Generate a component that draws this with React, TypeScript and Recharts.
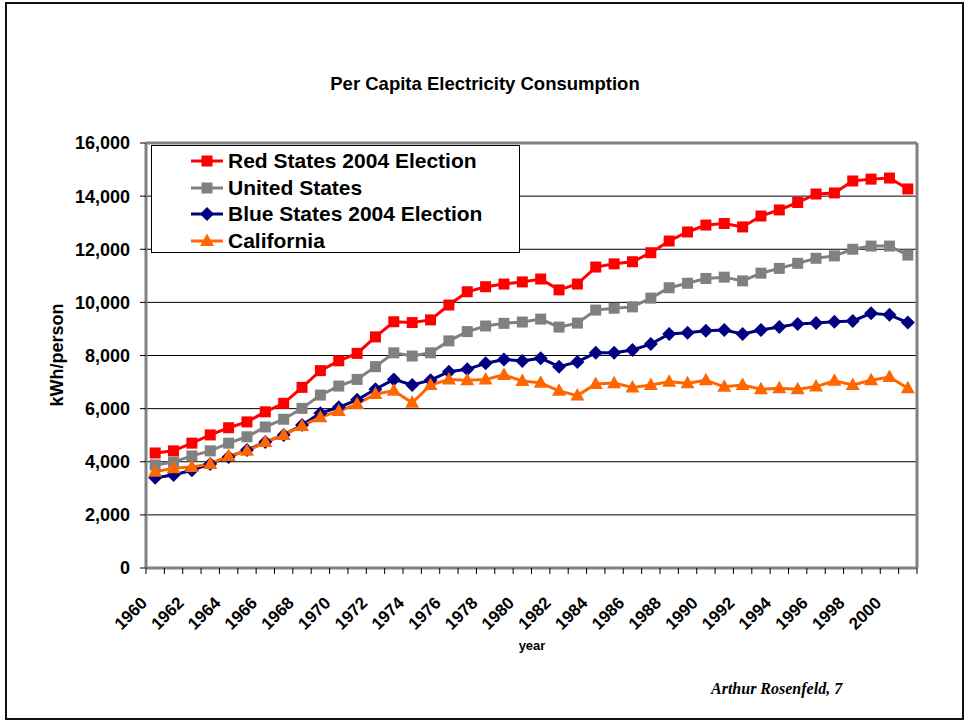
import { LineChart, Line, XAxis, YAxis, CartesianGrid, ReferenceLine } from 'recharts';

const years = [
  1960, 1961, 1962, 1963, 1964, 1965, 1966, 1967, 1968, 1969, 1970, 1971, 1972, 1973,
  1974, 1975, 1976, 1977, 1978, 1979, 1980, 1981, 1982, 1983, 1984, 1985, 1986, 1987,
  1988, 1989, 1990, 1991, 1992, 1993, 1994, 1995, 1996, 1997, 1998, 1999, 2000, 2001,
];

const redStates = [
  4330, 4410, 4700, 5010, 5280, 5500, 5880, 6200, 6800, 7430, 7800, 8080, 8700, 9270,
  9240, 9340, 9900, 10400, 10590, 10690, 10770, 10880, 10470, 10690, 11330, 11450, 11530, 11870,
  12310, 12650, 12910, 12970, 12840, 13250, 13480, 13760, 14080, 14120, 14570, 14640, 14680, 14270,
];

const unitedStates = [
  3880, 3990, 4220, 4410, 4700, 4940, 5310, 5600, 6010, 6510, 6850, 7100, 7580, 8100,
  7980, 8100, 8550, 8900, 9110, 9210, 9260, 9370, 9070, 9220, 9710, 9780, 9830, 10160,
  10550, 10720, 10900, 10950, 10810, 11100, 11280, 11470, 11660, 11750, 12000, 12120, 12120, 11780,
];

const blueStates = [
  3400, 3500, 3680, 3920, 4180, 4440, 4740, 5010, 5380, 5830, 6050, 6330, 6730, 7100,
  6890, 7070, 7390, 7480, 7710, 7850, 7790, 7900, 7580, 7760, 8100, 8100, 8210, 8430,
  8810, 8860, 8930, 8960, 8810, 8960, 9070, 9190, 9220, 9270, 9300, 9590, 9530, 9240,
];

const california = [
  3620, 3760, 3800, 3920, 4220, 4410, 4740, 5010, 5350, 5680, 5910, 6170, 6550, 6670,
  6220, 6890, 7100, 7070, 7100, 7270, 7040, 6970, 6670, 6490, 6930, 6960, 6800, 6890,
  7010, 6960, 7070, 6820, 6890, 6730, 6770, 6730, 6830, 7050, 6890, 7070, 7190, 6770,
];

const yTicks = [0, 2000, 4000, 6000, 8000, 10000, 12000, 14000, 16000];
const yearLabels = [
  1960, 1962, 1964, 1966, 1968, 1970, 1972, 1974, 1976, 1978, 1980,
  1982, 1984, 1986, 1988, 1990, 1992, 1994, 1996, 1998, 2000,
];

const data = years.map((year, i) => ({
  year,
  red: redStates[i],
  us: unitedStates[i],
  blue: blueStates[i],
  ca: california[i],
}));

// Excel-style category axis: tick marks sit between the years
const bandEdges = [...years.map((y) => y - 0.5), years[years.length - 1] + 0.5];

const series = [
  { key: 'red', name: 'Red States 2004 Election', color: '#ff0000', shape: 'square' },
  { key: 'us', name: 'United States', color: '#808080', shape: 'square' },
  { key: 'blue', name: 'Blue States 2004 Election', color: '#000080', shape: 'diamond' },
  { key: 'ca', name: 'California', color: '#ff6600', shape: 'triangle' },
];

const FONT = '"Liberation Sans", Arial, sans-serif';

function Marker({ shape, cx, cy, color }: { shape: string; cx: number; cy: number; color: string }) {
  if (shape === 'square') return <rect x={cx - 5.5} y={cy - 5.5} width={11} height={11} fill={color} />;
  if (shape === 'diamond')
    return <polygon points={`${cx},${cy - 7} ${cx + 7},${cy} ${cx},${cy + 7} ${cx - 7},${cy}`} fill={color} />;
  return <polygon points={`${cx},${cy - 7.5} ${cx + 7},${cy + 5} ${cx - 7},${cy + 5}`} fill={color} />;
}

function YearTick({ x, y, payload }: any) {
  const ax = x - 7;
  const ay = y + 27;
  return (
    <text
      x={ax}
      y={ay}
      transform={`rotate(-45 ${ax} ${ay})`}
      textAnchor="end"
      fontSize={17}
      fontWeight="bold"
      fontFamily={FONT}
      fill="#000"
    >
      {payload.value}
    </text>
  );
}

// edge axis only draws its tick marks
const NoLabel = () => <g />;

function LegendBox() {
  return (
    <div
      style={{
        position: 'absolute',
        left: 151,
        top: 145,
        width: 369,
        height: 108,
        boxSizing: 'border-box',
        border: '1px solid #000',
        background: '#fff',
        padding: '2px 0 0 38px',
      }}
    >
      {series.map((s) => (
        <div key={s.key} style={{ display: 'flex', alignItems: 'center', height: 26.5 }}>
          <svg width={34} height={20} style={{ marginRight: 4 }}>
            <line x1={1} y1={10} x2={33} y2={10} stroke={s.color} strokeWidth={3} />
            <Marker shape={s.shape} cx={17} cy={10} color={s.color} />
          </svg>
          <span style={{ fontFamily: FONT, fontWeight: 'bold', fontSize: 21, color: '#000', whiteSpace: 'nowrap' }}>
            {s.name}
          </span>
        </div>
      ))}
    </div>
  );
}

export default function App() {
  return (
    <div style={{ position: 'absolute', left: 0, top: 0, width: 964, height: 721, background: '#fff', fontFamily: FONT }}>
      <div
        style={{
          position: 'absolute',
          left: 5,
          top: 2,
          width: 959,
          height: 718,
          boxSizing: 'border-box',
          border: '2px solid #111',
        }}
      />
      <div
        style={{
          position: 'absolute',
          left: 285,
          width: 400,
          top: 73,
          textAlign: 'center',
          fontWeight: 'bold',
          fontSize: 18.5,
        }}
      >
        Per Capita Electricity Consumption
      </div>
      <div
        style={{
          position: 'absolute',
          left: 57,
          top: 355,
          transform: 'translate(-50%, -50%) rotate(-90deg)',
          whiteSpace: 'nowrap',
          fontWeight: 'bold',
          fontSize: 18,
        }}
      >
        kWh/person
      </div>
      <div style={{ position: 'absolute', left: 482, width: 100, top: 638, textAlign: 'center', fontWeight: 'bold', fontSize: 13 }}>
        year
      </div>
      <div
        style={{
          position: 'absolute',
          left: 711,
          top: 680,
          fontFamily: '"Liberation Serif", "Times New Roman", serif',
          fontStyle: 'italic',
          fontWeight: 'bold',
          fontSize: 16,
          whiteSpace: 'nowrap',
        }}
      >
        Arthur Rosenfeld, 7
      </div>

      <div style={{ position: 'absolute', left: 0, top: 0 }}>
        <LineChart width={964} height={721} data={data} margin={{ top: 143, right: 46, bottom: 92, left: 66 }}>
          <CartesianGrid vertical={false} stroke="#000" strokeWidth={1} yAxisId="left" xAxisId="labels" />
          <XAxis
            xAxisId="edges"
            type="number"
            dataKey="year"
            domain={[bandEdges[0], bandEdges[bandEdges.length - 1]]}
            ticks={bandEdges}
            interval={0}
            height={1}
            tick={<NoLabel />}
            tickSize={6}
            tickLine={{ stroke: '#000', strokeWidth: 1 }}
            axisLine={{ stroke: '#808080', strokeWidth: 3 }}
          />
          <XAxis
            xAxisId="labels"
            type="number"
            dataKey="year"
            domain={[bandEdges[0], bandEdges[bandEdges.length - 1]]}
            ticks={yearLabels}
            interval={0}
            height={60}
            axisLine={false}
            tickLine={false}
            tick={<YearTick />}
          />
          <YAxis
            yAxisId="left"
            width={80}
            domain={[0, 16000]}
            ticks={yTicks}
            interval={0}
            tickSize={6}
            tickMargin={10}
            tickFormatter={(v: number) => v.toLocaleString('en-US')}
            tick={{ fontSize: 18, fontWeight: 'bold', fill: '#000', fontFamily: FONT }}
            tickLine={{ stroke: '#000', strokeWidth: 1 }}
            axisLine={{ stroke: '#808080', strokeWidth: 3 }}
          />
          <YAxis
            yAxisId="right"
            orientation="right"
            width={1}
            domain={[0, 16000]}
            tick={false}
            tickLine={false}
            axisLine={{ stroke: '#808080', strokeWidth: 3 }}
          />
          <ReferenceLine yAxisId="left" xAxisId="labels" y={16000} stroke="#808080" strokeWidth={3} />
          {series.map((s) => (
            <Line
              key={s.key}
              xAxisId="labels"
              yAxisId="left"
              type="linear"
              dataKey={s.key}
              name={s.name}
              stroke={s.color}
              strokeWidth={3}
              isAnimationActive={false}
              dot={(p: any) => <Marker key={`${s.key}-${p.index}`} shape={s.shape} cx={p.cx} cy={p.cy} color={s.color} />}
              activeDot={false}
            />
          ))}
        </LineChart>
      </div>
      <LegendBox />
    </div>
  );
}
